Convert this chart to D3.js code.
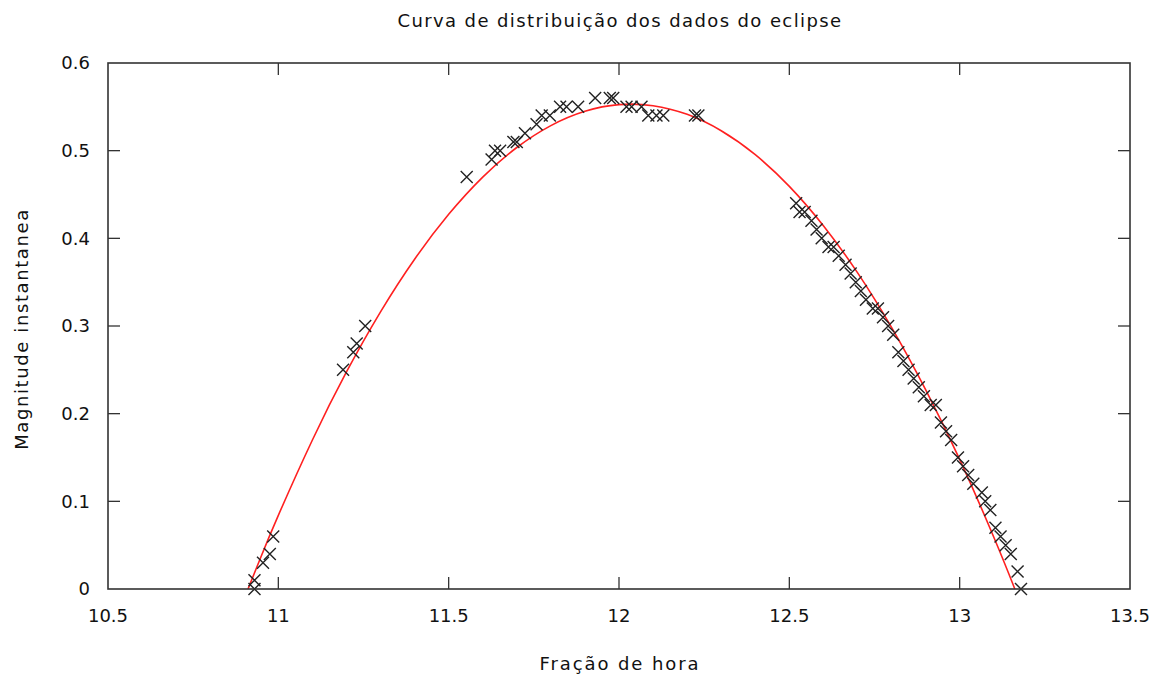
<!DOCTYPE html>
<html><head><meta charset="utf-8">
<script src="https://cdn.jsdelivr.net/npm/d3@7"></script>
<style>
html,body{margin:0;padding:0;background:#fff;}
text{font-family:"DejaVu Sans",Verdana,sans-serif;fill:#111;}
</style></head>
<body><svg id="chart" width="1166" height="677"></svg>
<script>
const title = "Curva de distribuição dos dados do eclipse";
const xLabel = "Fração de hora";
const yLabel = "Magnitude instantanea";
const xTicks = [10.5, 11, 11.5, 12, 12.5, 13, 13.5];
const yTicks = [0, 0.1, 0.2, 0.3, 0.4, 0.5, 0.6];

// observed data (hour fraction, magnitude)
const obsX = [10.93,10.93,10.955,10.975,10.985,11.19,11.22,11.23,11.255,
  11.553,11.626,11.636,11.651,11.69,11.70,11.724,11.758,11.773,11.797,11.827,11.846,11.88,11.93,11.973,11.983,
  12.022,12.037,12.066,12.086,12.11,12.13,12.223,12.233,
  12.52,12.53,12.545,12.565,12.58,12.595,12.615,12.63,12.645,12.665,12.68,12.695,12.71,12.725,12.745,12.76,12.775,12.79,12.805,12.82,12.835,12.85,12.865,12.88,12.895,12.915,12.93,12.945,12.96,12.975,12.995,13.01,13.025,13.04,13.065,13.075,13.09,13.105,13.12,13.135,13.15,13.17,13.18];
const obsY = [0.00,0.01,0.03,0.04,0.06,0.25,0.27,0.28,0.30,
  0.47,0.49,0.50,0.50,0.51,0.51,0.52,0.53,0.54,0.54,0.55,0.55,0.55,0.56,0.56,0.56,
  0.55,0.55,0.55,0.54,0.54,0.54,0.54,0.54,
  0.44,0.43,0.43,0.42,0.41,0.40,0.39,0.39,0.38,0.37,0.36,0.35,0.34,0.33,0.32,0.32,0.31,0.30,0.29,0.27,0.26,0.25,0.24,0.23,0.22,0.21,0.21,0.19,0.18,0.17,0.15,0.14,0.13,0.12,0.11,0.10,0.09,0.07,0.06,0.05,0.04,0.02,0.00];

// fitted curve
const fitX = [10.911,10.95,11.0,11.1,11.2,11.3,11.4,11.5,11.6,11.7,11.8,11.9,12.0,12.1,12.2,12.3,12.4,12.5,12.6,12.7,12.8,12.9,13.0,13.1,13.162];
const fitY = [0,0.0377,0.084,0.170,0.2476,0.3162,0.3762,0.4274,0.4699,0.5036,0.5286,0.5449,0.5525,0.5513,0.5414,0.5227,0.4954,0.4593,0.4144,0.3609,0.2985,0.2275,0.1478,0.0593,0];

const svg = d3.select("#chart");
const L = 108, R = 1130, T = 63, B = 589;
const x = d3.scaleLinear().domain([10.5, 13.5]).range([L, R]);
const y = d3.scaleLinear().domain([0, 0.6]).range([B, T]);
const axisColor = "#333";
const tickLen = 12;

// ticks (inside, mirrored)
const g = svg.append("g");
xTicks.forEach(v => {
  if (v > 10.5 && v < 13.5) {
    g.append("line").attr("x1", x(v)).attr("x2", x(v)).attr("y1", B).attr("y2", B - tickLen).attr("stroke", axisColor).attr("stroke-width", 1.3);
    g.append("line").attr("x1", x(v)).attr("x2", x(v)).attr("y1", T).attr("y2", T + tickLen).attr("stroke", axisColor).attr("stroke-width", 1.3);
  }
  svg.append("text").attr("x", x(v)).attr("y", B + 33).attr("text-anchor", "middle").attr("font-size", 18).text(v);
});
yTicks.forEach(v => {
  if (v > 0 && v < 0.6) {
    g.append("line").attr("x1", L).attr("x2", L + tickLen).attr("y1", y(v)).attr("y2", y(v)).attr("stroke", axisColor).attr("stroke-width", 1.3);
    g.append("line").attr("x1", R).attr("x2", R - tickLen).attr("y1", y(v)).attr("y2", y(v)).attr("stroke", axisColor).attr("stroke-width", 1.3);
  }
  svg.append("text").attr("x", L - 18).attr("y", y(v)).attr("dy", "0.35em").attr("text-anchor", "end").attr("font-size", 18).text(v);
});

// fit curve
const fit = fitX.map((v, i) => [v, fitY[i]]);
svg.append("path").datum(fit)
  .attr("d", d3.line().x(d => x(d[0])).y(d => y(d[1])).curve(d3.curveNatural))
  .attr("fill", "none").attr("stroke", "#ff2020").attr("stroke-width", 1.6);

// markers
const s = 6;
const obs = obsX.map((v, i) => [v, obsY[i]]);
svg.append("g").selectAll("path").data(obs).join("path")
  .attr("d", d => { const cx = x(d[0]), cy = y(d[1]);
    return `M${cx-s},${cy-s}L${cx+s},${cy+s}M${cx-s},${cy+s}L${cx+s},${cy-s}`; })
  .attr("stroke", "#222").attr("stroke-width", 1.4).attr("fill", "none");

// frame
svg.append("rect").attr("x", L).attr("y", T).attr("width", R - L).attr("height", B - T)
  .attr("fill", "none").attr("stroke", axisColor).attr("stroke-width", 1.6);

svg.append("text").attr("x", (L + R) / 2 + 1).attr("y", 27).attr("text-anchor", "middle").attr("font-size", 18).attr("letter-spacing", 1.4).text(title);
svg.append("text").attr("x", (L + R) / 2 + 1).attr("y", 670).attr("text-anchor", "middle").attr("font-size", 18).attr("letter-spacing", 1.9).text(xLabel);
svg.append("text").attr("transform", `translate(28,${(T + B) / 2 + 3}) rotate(-90)`).attr("text-anchor", "middle").attr("font-size", 18).attr("letter-spacing", 1.6).text(yLabel);
</script></body></html>
